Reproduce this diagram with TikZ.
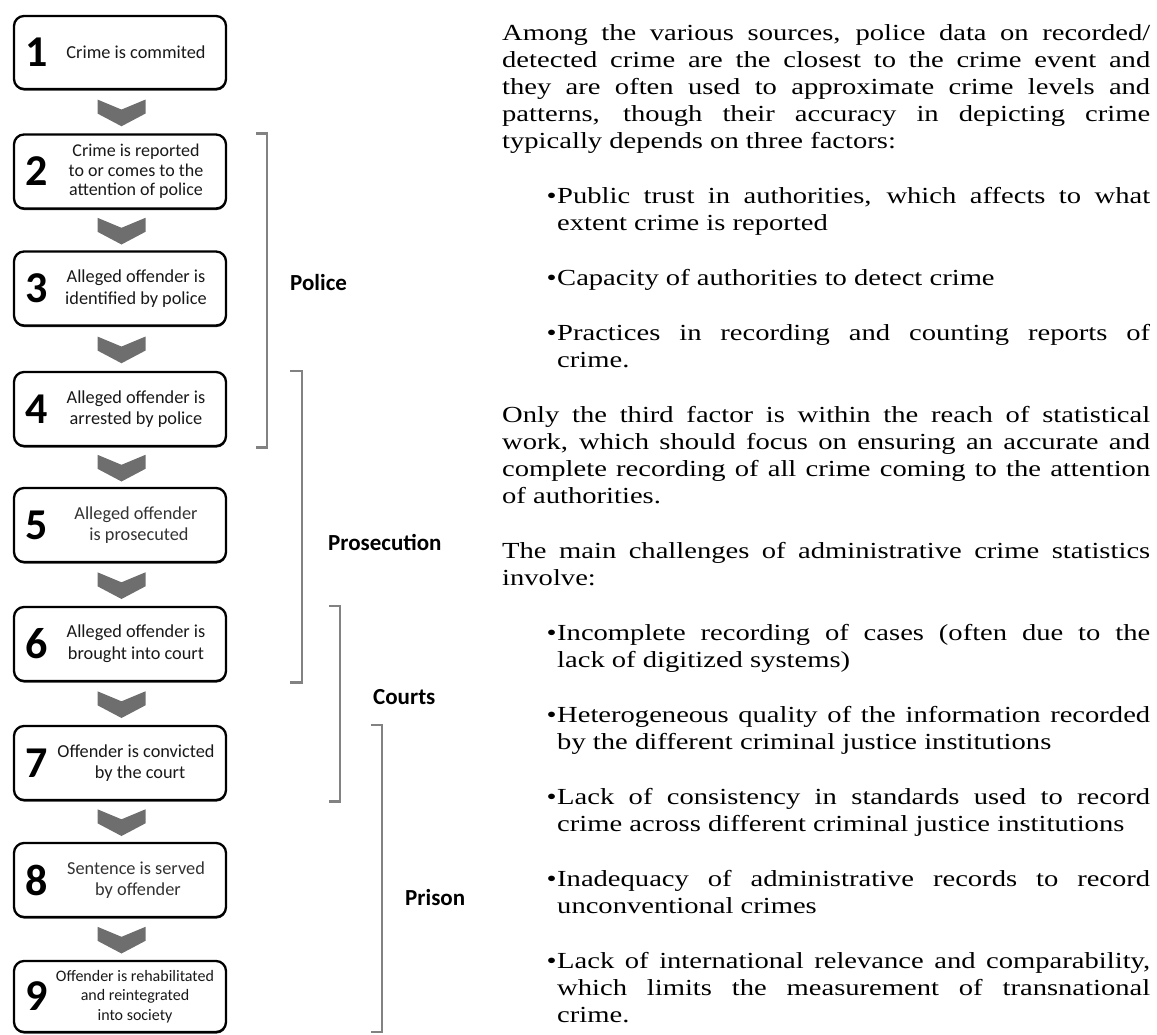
\documentclass[tikz,border=0pt]{standalone}
\usepackage{fontspec}
\setmainfont{Carlito}
\newfontfamily\bodyfont{Liberation Serif}[FakeStretch=1.243]
\usetikzlibrary{calc,shadows}
\definecolor{chevgray}{RGB}{110,110,110}
\definecolor{brackgray}{RGB}{130,130,130}
\definecolor{boxtxt}{RGB}{25,25,25}
\newcommand\bulitem[1]{{\leftskip=55pt\noindent\llap{\textbullet\hspace{0.5pt}}#1\par}}
\begin{document}
\begin{tikzpicture}[x=1pt,y=-1pt,
  stage/.style={draw=black, line width=2.3pt, rounded corners=10pt, fill=white,
    minimum width=212pt, minimum height=74pt, inner sep=0pt,
    drop shadow={shadow xshift=0.4pt, shadow yshift=-1.6pt, fill=black, opacity=0.85}},
  digit/.style={font=\fontsize{44}{44}\selectfont\bfseries, inner sep=0pt},
  stagetext/.style={align=center, inner sep=0pt, text=boxtxt, font=\fontsize{18.3}{21.7}\selectfont},
  chev/.style={fill=chevgray},
  brack/.style={draw=brackgray, line width=2.7pt},
  phase/.style={font=\fontsize{23}{23}\selectfont\bfseries, anchor=west, inner sep=0pt},
]
\useasboundingbox (0,0) rectangle (1157,1034);

% stages
\node[stage, minimum height=73pt] (b1) at (120,52.5) {};
\node[stage] (b2) at (120,171.5) {};
\node[stage] (b3) at (120,288.5) {};
\node[stage] (b4) at (120,409) {};
\node[stage] (b5) at (120,525) {};
\node[stage] (b6) at (120,644) {};
\node[stage] (b7) at (120,763) {};
\node[stage] (b8) at (120,880) {};
\node[stage, minimum height=71pt] (b9) at (120,996.5) {};

\foreach \i in {1,...,9}{
  \node[digit] (d\i) at ([xshift=24pt]b\i.west) {\i};
}

\node[stagetext] (t1) at ([xshift=16pt]b1.center) {Crime is commited};
\node[stagetext, font=\fontsize{18}{19.5}\selectfont] (t2) at ([xshift=16pt]b2.center) {Crime is reported\\to or comes to the\\attention of police};
\node[stagetext] (t3) at ([xshift=16pt]b3.center) {Alleged offender is\\identified by police};
\node[stagetext] (t4) at ([xshift=16pt]b4.center) {Alleged offender is\\arrested by police};
\node[stagetext, text=black!80] (t5) at ([xshift=16pt]b5.center) {Alleged offender\\\hspace*{6pt}is prosecuted};
\node[stagetext] (t6) at ([xshift=16pt]b6.center) {Alleged offender is\\brought into court};
\node[stagetext] (t7) at ([xshift=16pt]b7.center) {Offender is convicted\\\hspace*{8pt}by the court};
\node[stagetext, text=black!80] (t8) at ([xshift=16pt]b8.center) {Sentence is served\\\hspace*{4pt}by offender};
\node[stagetext, font=\fontsize{16}{19.7}\selectfont] (t9) at ([xshift=15pt]b9.center) {Offender is rehabilitated\\and reintegrated\\into society};

% chevrons between stages
\foreach \a/\b in {1/2,2/3,3/4,4/5,5/6,6/7,7/8,8/9}{
  \coordinate (m\a) at ($(b\a.south)!0.5!(b\b.north)+(1.5,0)$);
  \fill[chev] ($(m\a)+(-24,-12.2)$) -- ($(m\a)+(0,-2.2)$) -- ($(m\a)+(24,-12.2)$)
     -- ($(m\a)+(24,1.8)$) -- ($(m\a)+(0,14.5)$) -- ($(m\a)+(-24,1.8)$) -- cycle;
}

% brackets
\coordinate (xpol) at (267,0);   \coordinate (xpolt) at (256,0);
\coordinate (xpro) at (302,0);   \coordinate (xprot) at (290,0);
\coordinate (xcou) at (340,0);   \coordinate (xcout) at (329,0);
\coordinate (xpri) at (382,0);   \coordinate (xprit) at (371,0);
\coordinate (pribot) at (0,1032);

\draw[brack] (b2.north -| xpolt) -- (b2.north -| xpol) -- (b4.south -| xpol) -- (b4.south -| xpolt);
\draw[brack] (b4.north -| xprot) -- (b4.north -| xpro) -- (b6.south -| xpro) -- (b6.south -| xprot);
\draw[brack] (b6.north -| xcout) -- (b6.north -| xcou) -- (b7.south -| xcou) -- (b7.south -| xcout);
\draw[brack] (b7.north -| xprit) -- (b7.north -| xpri) -- (pribot -| xpri) -- (pribot -| xprit);

\node[phase] (lpol) at (290,283) {Police};
\node[phase] (lpro) at (328,542) {Prosecution};
\node[phase] (lcou) at (373,697) {Courts};
\node[phase] (lpri) at (405,898) {Prison};

% body text
\node[anchor=north west, text width=648pt, inner sep=0pt, align=justify] (body) at (502,24.5) {%
\bodyfont\fontsize{23}{27}\selectfont
\setlength{\parskip}{28pt}\setlength{\parindent}{0pt}%
\tolerance=10000 \hyphenpenalty=10000 \hbadness=10000
Among the various sources, police data on recorded/\linebreak detected crime are the closest to the crime event and\linebreak they are often used to approximate crime levels and\linebreak patterns, though their accuracy in depicting crime\linebreak typically depends on three factors:\par
\bulitem{Public trust in authorities, which affects to what\linebreak extent crime is reported}
\bulitem{Capacity of authorities to detect crime}
\bulitem{Practices in recording and counting reports of\linebreak crime.}
Only the third factor is within the reach of statistical\linebreak work, which should focus on ensuring an accurate and\linebreak complete recording of all crime coming to the attention\linebreak of authorities.\par
The main challenges of administrative crime statistics\linebreak involve:\par
\bulitem{Incomplete recording of cases (often due to the\linebreak lack of digitized systems)}
\bulitem{Heterogeneous quality of the information recorded\linebreak by the different criminal justice institutions}
\bulitem{Lack of consistency in standards used to record\linebreak crime across different criminal justice institutions}
\bulitem{Inadequacy of administrative records to record\linebreak unconventional crimes}
\bulitem{Lack of international relevance and comparability,\linebreak which limits the measurement of transnational\linebreak crime.}
};
\end{tikzpicture}
\end{document}
